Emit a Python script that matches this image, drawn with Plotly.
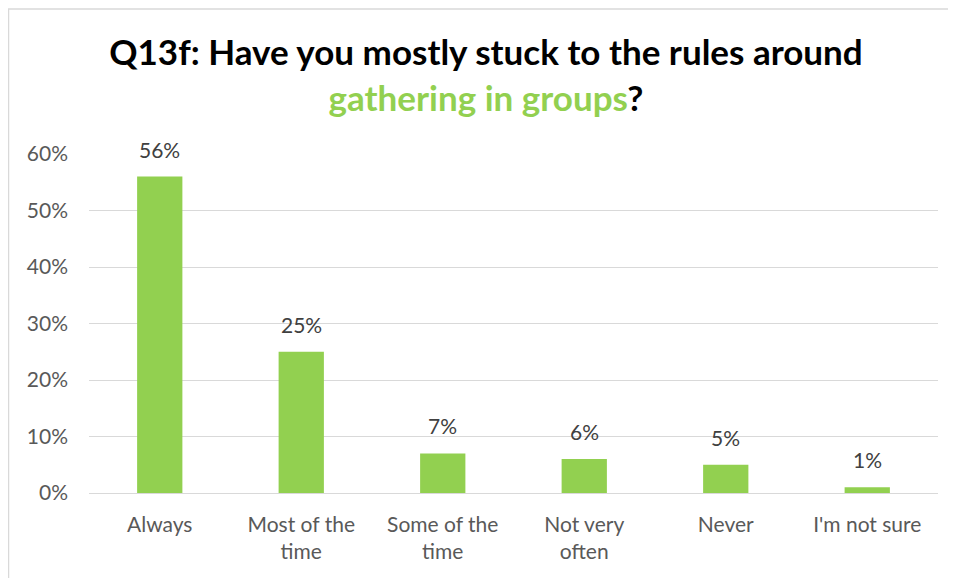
import plotly.graph_objects as go

# Survey answers and share of respondents
categories = ["Always", "Most of the<br>time", "Some of the<br>time", "Not very<br>often", "Never", "I'm not sure"]
shares = [0.56, 0.25, 0.07, 0.06, 0.05, 0.01]
tick_values = [0, 0.1, 0.2, 0.3, 0.4, 0.5, 0.6]
tick_labels = ["0%", "10%", "20%", "30%", "40%", "50%", "60%"]

green = "#92D050"
grid = "#D9D9D9"
font_name = "Lato"

fig = go.Figure(
    go.Bar(
        x=categories,
        y=shares,
        marker=dict(color=green, line=dict(width=0)),
        cliponaxis=False,
    )
)

# value labels above the bars
for cat, val in zip(categories, shares):
    fig.add_annotation(
        x=cat, y=val, text=f"{round(val * 100)}%",
        showarrow=False, yanchor="bottom", yshift=13,
        font=dict(family=font_name, size=21, color="#404040"),
    )

# the page puts the figure 8px in from the window edge
W, H = 948, 570
ml, mr, mt, mb = 81, 18, 146, 85
pw, ph = W - ml - mr, H - mt - mb


def px_x(x):
    return (x - ml) / pw


def px_y(y):
    return (H - mb - y) / ph


fig.update_layout(
    width=W,
    height=H,
    margin=dict(l=ml, r=mr, t=mt, b=mb),
    paper_bgcolor="white",
    plot_bgcolor="white",
    showlegend=False,
    bargap=0.68,
    title=dict(
        text="Q13f: Have you mostly stuck to the rules around<br>"
        f"<span style='color:{green}'>gathering in groups</span>?",
        x=478 / W,
        xanchor="center",
        y=1 - 57 / H,
        yanchor="top",
        font=dict(family=font_name, size=35, color="black", weight="bold"),
    ),
    xaxis=dict(
        showgrid=False,
        showline=False,
        ticks="",
        ticklabelstandoff=17,
        tickfont=dict(family=font_name, size=21, color="#595959"),
    ),
    yaxis=dict(
        range=[0, 0.6],
        tickvals=tick_values,
        ticktext=tick_labels,
        showgrid=True,
        gridcolor=grid,
        gridwidth=1.3,
        zeroline=True,
        zerolinecolor=grid,
        zerolinewidth=1.3,
        showline=False,
        ticks="",
        ticklabelstandoff=20,
        tickfont=dict(family=font_name, size=21, color="#595959"),
    ),
    shapes=[
        dict(type="line", xref="paper", yref="paper",
             x0=px_x(0), x1=px_x(W + 5), y0=px_y(1), y1=px_y(1),
             line=dict(color=grid, width=1.5)),
        dict(type="line", xref="paper", yref="paper",
             x0=px_x(0.5), x1=px_x(0.5), y0=px_y(1), y1=px_y(H + 5),
             line=dict(color=grid, width=1.5)),
    ],
)

fig.write_html("out.html")
